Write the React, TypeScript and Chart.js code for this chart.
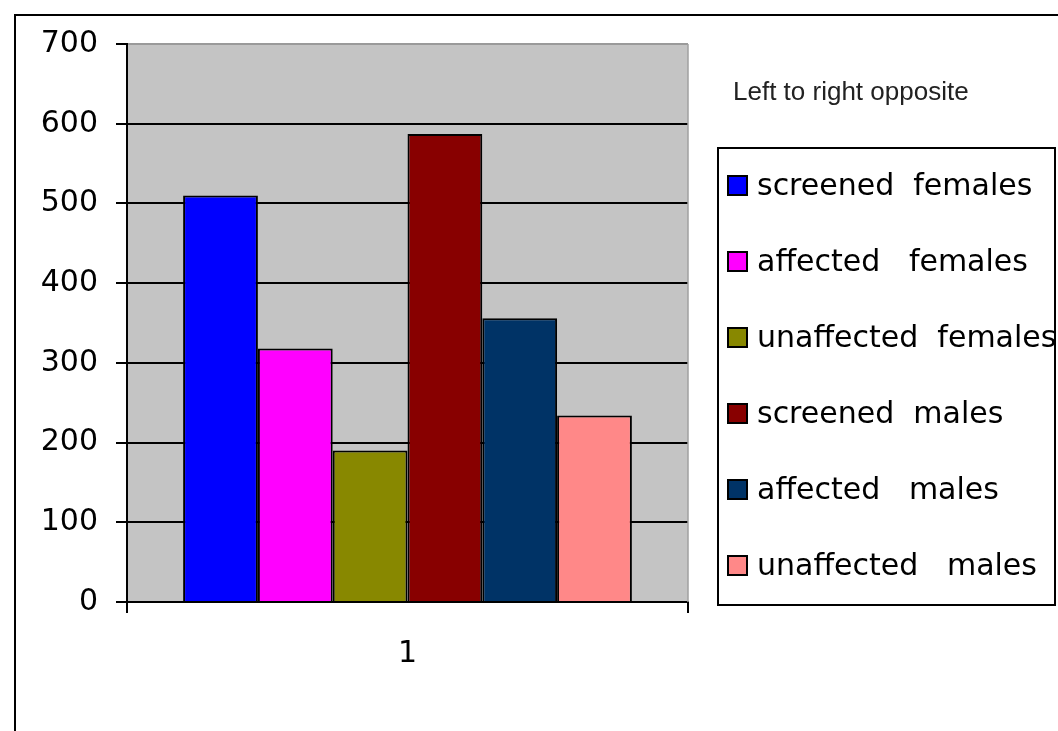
import React, { useEffect, useRef } from "react";
import { Chart, registerables } from "chart.js";

Chart.register(...registerables);

const categories = ["1"];
const seriesLabels = [
  "screened  females",
  "affected   females",
  "unaffected  females",
  "screened  males",
  "affected   males",
  "unaffected   males",
];
const seriesValues = [510, 318, 190, 587, 356, 234];
const seriesColors = ["#0000FF", "#FF00FF", "#888800", "#880000", "#003366", "#FF8888"];
const yTicks = [0, 100, 200, 300, 400, 500, 600, 700];
const noteText = "Left to right opposite";

const W = 1058;
const H = 731;
const FONT = "'DejaVu Sans', sans-serif";

const decorPlugin = {
  id: "decor",
  beforeDraw(chart: any) {
    const { ctx, chartArea } = chart;
    ctx.save();
    ctx.fillStyle = "#ffffff";
    ctx.fillRect(0, 0, W, H);
    ctx.fillStyle = "#C4C4C4";
    ctx.fillRect(chartArea.left, chartArea.top, chartArea.right - chartArea.left, chartArea.bottom - chartArea.top);
    ctx.restore();
  },
  afterDraw(chart: any) {
    const { ctx, chartArea } = chart;
    ctx.save();
    // outer frame (left & top visible)
    ctx.strokeStyle = "#000";
    ctx.lineWidth = 2;
    ctx.beginPath();
    ctx.moveTo(15, H + 5);
    ctx.lineTo(15, 15);
    ctx.lineTo(W + 5, 15);
    ctx.stroke();
    // right edge of plot area
    ctx.strokeStyle = "#A0A0A0";
    ctx.lineWidth = 1.5;
    ctx.beginPath();
    ctx.moveTo(chartArea.right, chartArea.top);
    ctx.lineTo(chartArea.right, chartArea.bottom);
    ctx.stroke();
    // note
    ctx.fillStyle = "#222";
    ctx.font = "26px 'Liberation Sans', Arial, sans-serif";
    ctx.textBaseline = "middle";
    ctx.textAlign = "left";
    ctx.fillText(noteText, 733, 93);
    // legend box
    const bx = 717, by = 147, bw = 339, bh = 459;
    ctx.strokeStyle = "#000";
    ctx.lineWidth = 2;
    ctx.strokeRect(bx + 1, by + 1, bw - 2, bh - 2);
    ctx.font = "30px " + FONT;
    const step = 76;
    chart.data.datasets.forEach((ds: any, i: number) => {
      const cy = 186 + i * step;
      ctx.fillStyle = ds.backgroundColor;
      ctx.fillRect(728, cy - 10, 19, 19);
      ctx.strokeStyle = "#000";
      ctx.lineWidth = 2;
      ctx.strokeRect(728, cy - 10, 19, 19);
      ctx.fillStyle = "#000";
      ctx.fillText(ds.label, 757, cy + 1);
    });
    ctx.restore();
  },
};

export default function App() {
  const ref = useRef<HTMLCanvasElement>(null);
  useEffect(() => {
    if (!ref.current) return;
    const chart = new Chart(ref.current, {
      type: "bar",
      data: {
        labels: categories,
        datasets: seriesLabels.map((label, i) => ({
          label,
          data: [seriesValues[i]],
          backgroundColor: seriesColors[i],
          borderColor: "#000",
          borderWidth: 2,
          categoryPercentage: 0.8,
          barPercentage: 1.0,
        })),
      },
      options: {
        responsive: false,
        animation: false,
        devicePixelRatio: 1,
        layout: { padding: { left: 0, top: 44, right: 370, bottom: 0 } },
        plugins: { legend: { display: false }, tooltip: { enabled: false } },
        scales: {
          x: {
            grid: {
              display: true,
              drawOnChartArea: false,
              drawTicks: true,
              tickLength: 11,
              color: "#000",
              lineWidth: 2,
              offset: true,
            },
            border: { display: true, color: "#000", width: 2 },
            ticks: { font: { family: FONT, size: 30 }, color: "#000", padding: 23 },
            afterFit: (s: any) => {
              s.height = H - 602;
            },
          },
          y: {
            min: 0,
            max: 700,
            afterBuildTicks: (s: any) => {
              s.ticks = yTicks.map((v) => ({ value: v }));
            },
            grid: {
              color: (c: any) => (c.tick && c.tick.value === 700 ? "#9A9A9A" : "#000"),
              tickColor: "#000",
              lineWidth: 2,
              tickLength: 11,
            },
            border: { display: true, color: "#000", width: 2 },
            ticks: { font: { family: FONT, size: 30 }, color: "#000", padding: 18 },
            afterFit: (s: any) => {
              s.width = 127;
            },
          },
        },
      },
      plugins: [decorPlugin],
    });
    return () => chart.destroy();
  }, []);
  return (
    <div style={{ position: "absolute", left: 0, top: 0, width: W, height: H }}>
      <canvas ref={ref} width={W} height={H} style={{ width: W, height: H, display: "block" }} />
    </div>
  );
}
